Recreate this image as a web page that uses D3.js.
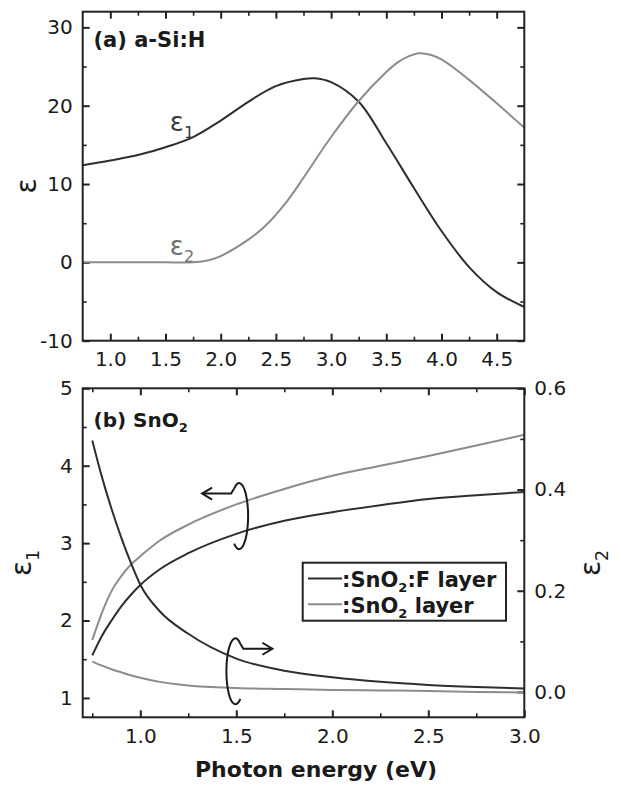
<!DOCTYPE html>
<html lang="en">
<head>
    <meta charset="UTF-8">
    <title>Dielectric functions: a-Si:H and SnO2</title>
    <script src="https://d3js.org/d3.v7.min.js"></script>
    <style>
        body { margin: 0; background: #fff; }
        text { font-family: "DejaVu Sans", sans-serif; fill: #1a1a1a; }
        .tick text { font-size: 20px; }
        .frame { fill: none; stroke: #222; stroke-width: 2px; }
        .tick line { stroke: #222; stroke-width: 2px; }
        .minor .tick line { stroke-width: 1.6px; }
        .curve { fill: none; stroke-width: 2px; }
        .dark { stroke: #2e2e2e; }
        .light { stroke: #8c8c8c; }
        .bold { font-weight: bold; }
        .arrow { fill: none; stroke: #1a1a1a; stroke-width: 2px; }
    </style>
</head>
<body>
<svg width="621" height="787"></svg>
<script>
    // (a) a-Si:H
    const eps1A_E = [0.75, 1.0, 1.25, 1.5, 1.75, 2.0, 2.25, 2.5, 2.75, 2.85, 3.0, 3.25, 3.5, 3.75, 4.0, 4.25, 4.5, 4.75];
    const eps1A   = [12.4, 13.0, 13.7, 14.7, 16.0, 18.1, 20.5, 22.5, 23.4, 23.5, 23.0, 20.5, 15.2, 9.5, 4.0, -0.6, -3.8, -5.7];
    const eps2A_E = [0.75, 1.0, 1.25, 1.5, 1.75, 1.9, 2.0, 2.25, 2.4, 2.6, 2.75, 3.0, 3.25, 3.5, 3.6, 3.7, 3.8, 3.9, 4.0, 4.25, 4.5, 4.75];
    const eps2A   = [0, 0, 0, 0, 0, 0.3, 0.8, 2.9, 4.6, 7.8, 10.8, 16.0, 20.6, 24.3, 25.5, 26.3, 26.7, 26.5, 25.9, 23.3, 20.3, 17.2];

    // (b) SnO2 and SnO2:F
    const energyB = [0.75, 0.8, 0.85, 0.9, 0.95, 1.0, 1.1, 1.25, 1.5, 1.75, 2.0, 2.25, 2.5, 2.75, 3.0];
    const eps1F   = [1.55, 1.80, 2.00, 2.18, 2.33, 2.46, 2.66, 2.87, 3.12, 3.29, 3.40, 3.49, 3.57, 3.62, 3.66];
    const eps1S   = [1.75, 2.10, 2.38, 2.57, 2.72, 2.83, 3.03, 3.24, 3.50, 3.70, 3.87, 4.00, 4.125, 4.26, 4.40];
    const eps2F   = [0.497, 0.425, 0.362, 0.306, 0.256, 0.212, 0.160, 0.115, 0.066, 0.042, 0.029, 0.020, 0.014, 0.010, 0.007];
    const eps2S   = [0.060, 0.052, 0.045, 0.039, 0.033, 0.028, 0.020, 0.013, 0.008, 0.006, 0.004, 0.003, 0.002, 0.000, -0.001];

    const xTicksA = [1.0, 1.5, 2.0, 2.5, 3.0, 3.5, 4.0, 4.5];
    const yTicksA = [-10, 0, 10, 20, 30];
    const xTicksB = [1.0, 1.5, 2.0, 2.5, 3.0];
    const y1TicksB = [1, 2, 3, 4, 5];
    const y2TicksB = [0.0, 0.2, 0.4, 0.6];
    const legendLabels = [["SnO", "2", ":F layer"], ["SnO", "2", " layer"]];

    const svg = d3.select("svg");
    const L = 82.7, R = 524.3;

    // scales
    const xA = d3.scaleLinear().domain([0.75, 4.75]).range([L, R]);
    const yA = d3.scaleLinear().domain([-10, 32]).range([340.7, 11.7]);
    const xB = d3.scaleLinear().domain([0.7, 3.0]).range([L, R]);
    const yB1 = d3.scaleLinear().domain([0.75, 5]).range([717.3, 388.3]);
    const yB2 = d3.scaleLinear().domain([-0.05, 0.6]).range([717.3, 388.3]);

    const plain = d => String(+d.toFixed(0));
    const one = d => d.toFixed(1);

    function range(a, b, s) { const r = []; for (let v = a; v <= b + 1e-9; v += s) r.push(+v.toFixed(3)); return r; }

    // make() returns a fresh d3 axis each time
    function axis(make, pos, major, minor, fmt, pad) {
        const g = svg.append("g").attr("transform", pos);
        g.call(make().tickValues(major).tickSize(-7).tickPadding(pad).tickFormat(fmt || ""));
        g.select(".domain").remove();
        const m = svg.append("g").attr("class", "minor").attr("transform", pos);
        m.call(make().tickValues(minor).tickSize(-4).tickFormat(""));
        m.select(".domain").remove();
        return g;
    }

    function panelFrame(x, y) {
        svg.append("rect").attr("class", "frame")
            .attr("x", x.range()[0]).attr("y", y.range()[1])
            .attr("width", x.range()[1] - x.range()[0])
            .attr("height", y.range()[0] - y.range()[1]);
    }

    // ---- panel (a) ----
    axis(() => d3.axisBottom(xA), `translate(0,${yA.range()[0]})`, xTicksA, range(1.25, 4.5, 0.5), one, 11);
    axis(() => d3.axisTop(xA), `translate(0,${yA.range()[1]})`, xTicksA, range(1.25, 4.5, 0.5), null, 0);
    axis(() => d3.axisLeft(yA), `translate(${L},0)`, yTicksA, range(-5, 25, 10), plain, 10);
    axis(() => d3.axisRight(yA), `translate(${R},0)`, yTicksA, range(-5, 25, 10), null, 0);

    const lineA = (xs) => d3.line().x((d, i) => xA(xs[i])).y(d => yA(d)).curve(d3.curveCatmullRom.alpha(0.5));
    svg.append("path").attr("class", "curve dark").attr("d", lineA(eps1A_E)(eps1A));
    svg.append("path").attr("class", "curve light").attr("d", lineA(eps2A_E)(eps2A));
    panelFrame(xA, yA);

    function eps(g, x, y, sub, size, color, rot) {
        const t = g.append("text").attr("transform", `translate(${x},${y})` + (rot ? " rotate(-90)" : ""))
            .attr("text-anchor", "middle").style("font-size", size + "px").style("fill", color);
        t.append("tspan").text("\u03b5");
        if (sub) t.append("tspan").attr("dy", size * 0.28).style("font-size", (size * 0.62) + "px").text(sub);
        return t;
    }

    eps(svg, 182, 131, "1", 26, "#3a3a3a", false);
    eps(svg, 182, 255, "2", 26, "#6e6e6e", false);
    eps(svg, 36, 186, null, 28, "#1a1a1a", true);

    svg.append("text").attr("class", "bold").attr("x", 93.5).attr("y", 47)
        .style("font-size", "21px").text("(a) a-Si:H");

    // ---- panel (b) ----
    axis(() => d3.axisBottom(xB), `translate(0,${yB1.range()[0]})`, xTicksB, range(0.75, 2.75, 0.5), one, 12);
    axis(() => d3.axisTop(xB), `translate(0,${yB1.range()[1]})`, xTicksB, range(0.75, 2.75, 0.5), null, 0);
    axis(() => d3.axisLeft(yB1), `translate(${L},0)`, y1TicksB, range(1.5, 4.5, 1), plain, 10);
    axis(() => d3.axisRight(yB2), `translate(${R},0)`, y2TicksB, [0.1, 0.3, 0.5], one, 10);

    const lineB = (y) => d3.line().x((d, i) => xB(energyB[i])).y(d => y(d)).curve(d3.curveMonotoneX);
    svg.append("path").attr("class", "curve light").attr("d", lineB(yB1)(eps1S));
    svg.append("path").attr("class", "curve dark").attr("d", lineB(yB1)(eps1F));
    svg.append("path").attr("class", "curve light").attr("d", lineB(yB2)(eps2S));
    svg.append("path").attr("class", "curve dark").attr("d", lineB(yB2)(eps2F));
    panelFrame(xB, yB1);

    const pb = svg.append("text").attr("class", "bold").attr("x", 93.5).attr("y", 427).style("font-size", "20px");
    pb.append("tspan").text("(b) SnO");
    pb.append("tspan").attr("dy", 5).style("font-size", "13px").text("2");

    eps(svg, 31, 563, "1", 28, "#1a1a1a", true);
    eps(svg, 600, 563, "2", 28, "#1a1a1a", true);

    // curly arrows telling which axis each pair uses (dir 1 = points left)
    const arrowLeft = { E: 1.52, v: 3.33 }, arrowRight = { E: 1.49, v: 0.038 };
    function curly(cx, cy, dir) {
        const jx = cx - dir * 6, jy = cy - 29;
        const ex = cx - dir * 6, ey = cy + 26;
        const ay = cy - 24, tip = cx - dir * 38;
        const sweep = dir > 0 ? 1 : 0;
        svg.append("path").attr("class", "arrow")
            .attr("d", `M${jx},${jy} A9,33 0 1 ${sweep} ${ex},${ey}`);
        svg.append("path").attr("class", "arrow")
            .attr("d", `M${jx},${jy} L${jx - dir * 3},${ay} L${tip},${ay}`);
        svg.append("path").attr("class", "arrow")
            .attr("d", `M${tip + dir * 10},${ay - 6} L${tip},${ay} L${tip + dir * 10},${ay + 6}`);
    }
    curly(xB(arrowLeft.E), yB1(arrowLeft.v), 1);
    curly(xB(arrowRight.E), yB2(arrowRight.v), -1);

    // legend
    const lg = svg.append("g");
    lg.append("rect").attr("x", 302.7).attr("y", 562.7).attr("width", 203.3).attr("height", 58)
        .attr("fill", "#fff").attr("stroke", "#222").attr("stroke-width", 2);
    legendLabels.forEach((lab, i) => {
        const y = 578.5 + i * 25.7;
        lg.append("line").attr("x1", 308).attr("x2", 342).attr("y1", y).attr("y2", y)
            .attr("class", "curve " + (i === 0 ? "dark" : "light"));
        const t = lg.append("text").attr("class", "bold").attr("x", 342).attr("y", y + 8.5).style("font-size", "21px");
        t.append("tspan").text(":" + lab[0]);
        t.append("tspan").attr("dy", 5).style("font-size", "13px").text(lab[1]);
        t.append("tspan").attr("dy", -5).text(lab[2]);
    });

    svg.append("text").attr("class", "bold").attr("x", 316).attr("y", 777)
        .attr("text-anchor", "middle").style("font-size", "22px").text("Photon energy (eV)");
</script>
</body>
</html>
